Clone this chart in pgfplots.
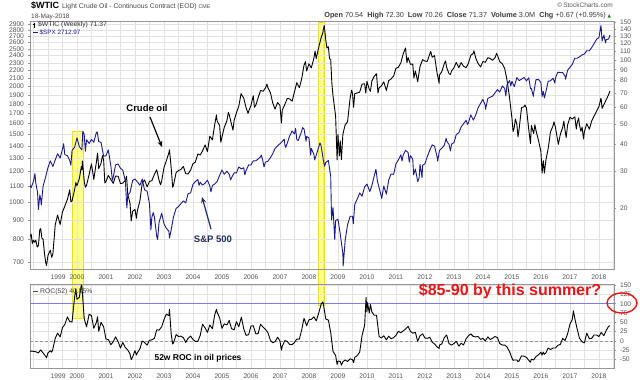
\documentclass[border=0pt]{standalone}
\usepackage{pgfplots}
\pgfplotsset{compat=1.18}
\usepackage{fontspec}
\setmainfont{Liberation Sans}
\newfontfamily\dejavu{DejaVu Sans}
\usetikzlibrary{arrows.meta}

\definecolor{spx}{RGB}{25,25,150}
\definecolor{gridc}{RGB}{226,226,226}
\definecolor{framec}{RGB}{150,150,150}
\definecolor{tickc}{RGB}{85,85,85}
\definecolor{hl}{RGB}{255,255,110}
\definecolor{hlb}{RGB}{225,225,40}
\definecolor{rocline}{RGB}{125,125,235}
\definecolor{redann}{RGB}{235,20,20}
\definecolor{navyann}{RGB}{30,45,100}

\pgfplotsset{
  common/.style={
    scale only axis, width=584pt, xmin=1998.38, xmax=2018.52,
    axis line style={draw=framec, line width=0.6pt},
    ticklabel style={font=\fontsize{6.7}{7}\selectfont, text=tickc},
    xtick={1999.35,2000,2001,2002,2003,2004,2005,2006,2007,2008,2009,2010,2011,2012,2013,2014,2015,2016,2017,2018},
    xticklabels={1999,2000,2001,2002,2003,2004,2005,2006,2007,2008,2009,2010,2011,2012,2013,2014,2015,2016,2017,2018},
    xtick style={draw=none},
    minor xtick={1998.5,1999,...,2018.5},
    xminorgrids=true,
    minor tick length=0pt,
    minor grid style={draw=gridc, line width=0.5pt},
    major grid style={draw=gridc, line width=0.5pt},
    ymajorgrids=true,
    ytick style={draw=framec, line width=0.5pt},
    major tick length=2.5pt,
    tick align=outside,
    xtick pos=bottom,
  }
}

\begin{document}
\begin{tikzpicture}
\useasboundingbox (0pt,0pt) rectangle (640pt,380pt);
\fill[white] (0pt,0pt) rectangle (640pt,380pt);

% highlight bands
\fill[hl, opacity=0.8] (72pt,62pt) rectangle (83pt,249pt);
\draw[hlb, line width=0.6pt] (72pt,62pt) rectangle (83pt,249pt);
\fill[hl, opacity=0.8] (318pt,75pt) rectangle (324pt,358pt);
\draw[hlb, line width=0.6pt] (318pt,75pt) rectangle (324pt,358pt);

% ---------- top panel: SPX scale (grid, left labels)
\begin{axis}[common, at={(30pt,111pt)}, anchor=south west, height=247.3pt,
  ymode=log, ymin=671, ymax=2940,
  ytick={700,800,900,1000,1100,1200,1300,1400,1500,1600,1700,1800,1900,2000,2100,2200,2300,2400,2500,2600,2700,2800,2900},
  yticklabels={700,800,900,1000,1100,1200,1300,1400,1500,1600,1700,1800,1900,2000,2100,2200,2300,2400,2500,2600,2700,2800,2900},
  ytick pos=left]
\end{axis}

% ---------- top panel: WTIC (right scale)
\begin{axis}[scale only axis, width=584pt, height=247.3pt, at={(30pt,111pt)}, anchor=south west,
  xmin=1998.38, xmax=2018.52, ymode=log, ymin=10.4, ymax=151.4,
  axis x line=none, axis y line*=right,
  axis line style={draw=framec, line width=0.6pt},
  ticklabel style={font=\fontsize{6.7}{7}\selectfont, text=tickc},
  ytick={20,30,40,50,60,70,80,90,100,110,120,130,140,150},
  yticklabels={20,30,40,50,60,70,80,90,100,110,120,130,140,150},
  ytick style={draw=framec, line width=0.5pt}, major tick length=2.5pt, tick align=outside]
\addplot[black, line width=0.9pt, line join=round] coordinates {
(1998.38,14.8) (1998.42,15.2) (1998.46,13.7) (1998.50,14.2) (1998.54,13.9) (1998.58,14.2) (1998.63,13.2) (1998.67,13.4) (1998.72,16.0) (1998.75,16.1) (1998.79,14.5) (1998.83,14.4) (1998.88,12.3) (1998.92,11.2) (1998.95,10.8) (1999.00,12.05)
(1999.08,12.75) (1999.13,11.8) (1999.17,12.27) (1999.25,16.76) (1999.33,18.66) (1999.42,16.84) (1999.50,19.29) (1999.58,20.53) (1999.67,22.10) (1999.75,24.51) (1999.79,21.5) (1999.83,21.75) (1999.92,24.59) (1999.96,26.5) (2000.00,25.60)
(2000.08,27.64) (2000.15,31.5) (2000.17,30.43) (2000.19,33.5) (2000.25,26.90) (2000.29,25.2) (2000.33,25.74) (2000.42,29.01) (2000.50,32.50) (2000.58,27.43) (2000.67,33.12) (2000.71,36.5) (2000.75,30.84) (2000.83,32.70) (2000.88,35.5) (2000.92,33.82) (2000.96,26.4) (2001.00,26.80)
(2001.08,28.66) (2001.17,27.39) (2001.25,26.29) (2001.33,28.46) (2001.42,28.37) (2001.50,26.25) (2001.58,26.35) (2001.67,27.20) (2001.71,28.4) (2001.75,23.43) (2001.83,21.18) (2001.87,17.5) (2001.92,19.44) (2002.00,19.84)
(2002.05,18.0) (2002.08,19.48) (2002.17,21.74) (2002.25,26.31) (2002.33,27.29) (2002.42,25.31) (2002.50,26.86) (2002.58,27.02) (2002.67,28.98) (2002.75,30.45) (2002.83,27.22) (2002.88,25.9) (2002.92,26.89) (2003.00,31.20)
(2003.08,33.51) (2003.17,36.60) (2003.19,37.8) (2003.25,31.04) (2003.30,25.2) (2003.33,25.80) (2003.42,29.56) (2003.50,30.19) (2003.58,30.54) (2003.67,31.57) (2003.75,29.20) (2003.83,29.11) (2003.92,30.41) (2004.00,32.52)
(2004.08,33.05) (2004.17,36.16) (2004.25,35.76) (2004.33,37.38) (2004.42,39.88) (2004.50,37.05) (2004.58,43.80) (2004.67,42.12) (2004.75,49.64) (2004.81,55.2) (2004.83,51.76) (2004.92,49.13) (2004.96,41.0) (2005.00,43.45)
(2005.08,48.20) (2005.17,51.75) (2005.22,56.7) (2005.25,55.40) (2005.33,49.72) (2005.38,46.8) (2005.42,51.97) (2005.50,56.50) (2005.58,60.57) (2005.66,69.5) (2005.67,68.94) (2005.75,66.24) (2005.83,59.76) (2005.90,56.1) (2005.92,57.32) (2006.00,61.04)
(2006.08,67.92) (2006.12,59.9) (2006.17,61.41) (2006.25,66.63) (2006.33,71.88) (2006.42,71.29) (2006.50,73.93) (2006.55,77.0) (2006.58,74.40) (2006.67,70.26) (2006.75,62.91) (2006.83,58.73) (2006.92,63.13) (2007.00,61.05)
(2007.05,50.5) (2007.08,58.14) (2007.17,61.79) (2007.25,65.87) (2007.33,65.71) (2007.42,64.01) (2007.50,70.68) (2007.58,78.21) (2007.67,74.04) (2007.75,81.66) (2007.83,94.53) (2007.88,98.2) (2007.92,88.71) (2008.00,95.98)
(2008.08,91.75) (2008.17,101.84) (2008.21,110.2) (2008.25,101.58) (2008.33,113.46) (2008.42,127.35) (2008.48,134.5) (2008.50,140.00) (2008.53,145.1) (2008.58,124.08) (2008.62,113.8) (2008.67,115.46) (2008.71,101.2) (2008.75,100.64) (2008.79,77.7) (2008.83,67.81) (2008.92,54.43) (2008.97,33.9) (2009.00,44.60)
(2009.05,35.4) (2009.08,41.68) (2009.12,34.0) (2009.17,44.76) (2009.25,49.66) (2009.33,51.12) (2009.42,66.31) (2009.47,72.0) (2009.50,69.89) (2009.54,59.9) (2009.58,69.45) (2009.67,69.96) (2009.75,70.61) (2009.83,77.00) (2009.92,77.28) (2009.96,69.9) (2010.00,79.36)
(2010.08,72.89) (2010.12,71.2) (2010.17,79.66) (2010.25,83.76) (2010.33,86.15) (2010.38,70.0) (2010.42,73.97) (2010.50,75.63) (2010.58,78.95) (2010.67,71.92) (2010.75,79.97) (2010.83,81.43) (2010.92,84.11) (2011.00,91.38)
(2011.08,92.19) (2011.17,96.97) (2011.25,106.72) (2011.33,113.93) (2011.38,97.2) (2011.42,102.70) (2011.50,95.42) (2011.58,95.70) (2011.62,82.3) (2011.67,88.81) (2011.75,79.20) (2011.83,93.19) (2011.92,100.36) (2012.00,98.83)
(2012.08,98.48) (2012.17,107.07) (2012.20,109.8) (2012.25,103.02) (2012.33,104.87) (2012.42,86.53) (2012.49,77.7) (2012.50,84.96) (2012.58,88.06) (2012.67,96.47) (2012.71,99.0) (2012.75,92.19) (2012.83,86.24) (2012.88,85.5) (2012.92,88.91) (2013.00,91.82)
(2013.08,97.49) (2013.17,92.05) (2013.25,97.23) (2013.33,93.46) (2013.42,91.97) (2013.50,96.56) (2013.58,105.03) (2013.67,107.65) (2013.69,110.5) (2013.75,102.33) (2013.83,96.38) (2013.92,92.72) (2014.00,98.42)
(2014.08,97.49) (2014.17,102.59) (2014.25,101.58) (2014.33,99.74) (2014.42,102.71) (2014.47,107.3) (2014.50,105.37) (2014.58,98.17) (2014.67,95.96) (2014.75,91.16) (2014.83,80.54) (2014.92,66.15) (2015.00,53.27)
(2015.04,46.1) (2015.08,48.24) (2015.12,52.8) (2015.17,49.76) (2015.21,43.5) (2015.25,47.60) (2015.33,59.63) (2015.42,60.30) (2015.45,61.4) (2015.50,59.47) (2015.58,47.12) (2015.64,40.45) (2015.67,49.20) (2015.75,45.09) (2015.79,49.6) (2015.83,46.59) (2015.92,41.65) (2016.00,37.04)
(2016.04,29.4) (2016.08,33.62) (2016.12,29.4) (2016.17,33.75) (2016.25,38.34) (2016.33,45.92) (2016.42,49.10) (2016.45,51.2) (2016.50,48.33) (2016.58,41.60) (2016.60,40.1) (2016.67,44.70) (2016.75,48.24) (2016.79,51.6) (2016.83,46.86) (2016.87,43.2) (2016.92,49.44) (2017.00,53.72)
(2017.08,52.81) (2017.17,54.01) (2017.22,47.3) (2017.25,50.60) (2017.30,53.4) (2017.33,49.33) (2017.38,46.2) (2017.42,48.32) (2017.47,42.5) (2017.50,46.04) (2017.58,50.17) (2017.67,47.23) (2017.75,51.67) (2017.83,54.38) (2017.92,57.40) (2018.00,60.42)
(2018.07,66.1) (2018.08,64.73) (2018.11,59.2) (2018.17,61.64) (2018.25,64.94) (2018.33,68.57) (2018.38,71.37)
};
\end{axis}

% ---------- top panel: SPX line
\begin{axis}[scale only axis, width=584pt, height=247.3pt, at={(30pt,111pt)}, anchor=south west,
  xmin=1998.38, xmax=2018.52, ymode=log, ymin=671, ymax=2940, hide axis]
\addplot[spx, line width=0.9pt, line join=round] coordinates {
(1998.38,1108) (1998.42,1090.8) (1998.50,1133.8) (1998.55,1186) (1998.58,1120.7) (1998.64,1062) (1998.67,957.3) (1998.72,1045) (1998.75,1017.0) (1998.77,984) (1998.83,1098.7) (1998.92,1163.6) (1999.00,1229.2)
(1999.08,1279.6) (1999.17,1238.3) (1999.25,1286.4) (1999.33,1335.2) (1999.42,1301.8) (1999.50,1372.7) (1999.54,1418) (1999.58,1328.7) (1999.67,1320.4) (1999.75,1282.7) (1999.79,1247) (1999.83,1362.9) (1999.92,1388.9) (2000.00,1469.3)
(2000.08,1394.5) (2000.17,1366.4) (2000.20,1527) (2000.25,1498.6) (2000.29,1356) (2000.33,1452.4) (2000.42,1420.6) (2000.50,1454.6) (2000.58,1430.8) (2000.67,1517.7) (2000.70,1520) (2000.75,1436.5) (2000.83,1429.4) (2000.92,1315.2) (2001.00,1320.3)
(2001.08,1366.0) (2001.17,1239.9) (2001.22,1140) (2001.25,1160.3) (2001.33,1249.5) (2001.42,1255.8) (2001.50,1224.4) (2001.58,1211.2) (2001.67,1133.6) (2001.72,965.8) (2001.75,1040.9) (2001.83,1059.8) (2001.92,1139.5) (2002.00,1148.1)
(2002.08,1130.2) (2002.17,1106.7) (2002.25,1147.4) (2002.33,1076.9) (2002.42,1067.1) (2002.50,989.8) (2002.55,847.8) (2002.58,911.6) (2002.63,940) (2002.67,916.1) (2002.75,815.3) (2002.78,800) (2002.83,885.8) (2002.92,936.3) (2003.00,879.8)
(2003.08,855.7) (2003.17,841.2) (2003.19,807) (2003.25,848.2) (2003.33,916.9) (2003.42,963.6) (2003.50,974.5) (2003.58,990.3) (2003.67,1008.0) (2003.75,996.0) (2003.83,1050.7) (2003.92,1058.2) (2004.00,1111.9)
(2004.08,1131.1) (2004.17,1144.9) (2004.21,1106) (2004.25,1126.2) (2004.33,1107.3) (2004.42,1120.7) (2004.50,1140.8) (2004.58,1101.7) (2004.62,1064) (2004.67,1104.2) (2004.75,1114.6) (2004.83,1130.2) (2004.92,1173.8) (2005.00,1211.9)
(2005.08,1181.3) (2005.17,1203.6) (2005.25,1180.6) (2005.30,1142) (2005.33,1156.9) (2005.42,1191.5) (2005.50,1191.3) (2005.58,1234.2) (2005.67,1220.3) (2005.75,1228.8) (2005.79,1177) (2005.83,1207.0) (2005.92,1249.5) (2006.00,1248.3)
(2006.08,1280.1) (2006.17,1280.7) (2006.25,1294.8) (2006.33,1310.6) (2006.36,1325) (2006.42,1270.1) (2006.45,1235) (2006.50,1270.2) (2006.58,1276.7) (2006.67,1303.8) (2006.75,1335.9) (2006.83,1377.9) (2006.92,1400.6) (2007.00,1418.3)
(2007.08,1438.2) (2007.15,1456) (2007.17,1406.8) (2007.20,1387) (2007.25,1420.9) (2007.33,1482.4) (2007.42,1530.6) (2007.50,1503.4) (2007.54,1553) (2007.58,1455.3) (2007.63,1445) (2007.67,1474.0) (2007.75,1526.8) (2007.78,1561.8) (2007.83,1549.4) (2007.90,1440) (2007.92,1481.1) (2008.00,1468.4)
(2008.06,1325) (2008.08,1378.6) (2008.17,1330.6) (2008.20,1288) (2008.25,1322.7) (2008.33,1385.6) (2008.38,1425) (2008.42,1400.4) (2008.50,1280.0) (2008.54,1239) (2008.58,1267.4) (2008.67,1282.8) (2008.75,1166.4) (2008.78,899.2) (2008.83,968.8) (2008.89,800) (2008.92,896.2) (2009.00,903.3)
(2009.08,825.9) (2009.17,735.1) (2009.18,683.4) (2009.25,797.9) (2009.33,872.8) (2009.42,919.1) (2009.50,919.3) (2009.53,879) (2009.58,987.5) (2009.67,1020.6) (2009.75,1057.1) (2009.83,1036.2) (2009.92,1095.6) (2010.00,1115.1)
(2010.08,1073.9) (2010.10,1066) (2010.17,1104.5) (2010.25,1169.4) (2010.31,1217) (2010.33,1186.7) (2010.36,1135) (2010.42,1089.4) (2010.50,1030.7) (2010.51,1022.6) (2010.58,1101.6) (2010.67,1049.3) (2010.75,1141.2) (2010.83,1183.3) (2010.92,1180.6) (2011.00,1257.6)
(2011.08,1286.1) (2011.17,1327.2) (2011.21,1279) (2011.25,1325.8) (2011.33,1363.6) (2011.42,1345.2) (2011.46,1271) (2011.50,1320.6) (2011.58,1292.3) (2011.61,1178) (2011.67,1218.9) (2011.75,1131.4) (2011.80,1155) (2011.83,1253.3) (2011.90,1158) (2011.92,1247.0) (2012.00,1257.6)
(2012.08,1312.4) (2012.17,1365.7) (2012.25,1408.5) (2012.33,1397.9) (2012.42,1310.3) (2012.44,1278) (2012.50,1362.2) (2012.58,1379.3) (2012.67,1406.6) (2012.73,1465) (2012.75,1440.7) (2012.83,1412.2) (2012.88,1359) (2012.92,1416.2) (2013.00,1426.2)
(2013.08,1498.1) (2013.17,1514.7) (2013.25,1569.2) (2013.33,1597.6) (2013.42,1630.7) (2013.47,1592) (2013.50,1606.3) (2013.58,1685.7) (2013.67,1633.0) (2013.75,1681.6) (2013.83,1756.5) (2013.92,1805.8) (2014.00,1848.4)
(2014.08,1782.6) (2014.09,1742) (2014.17,1859.5) (2014.25,1872.3) (2014.33,1883.9) (2014.42,1923.6) (2014.50,1960.2) (2014.58,1930.7) (2014.67,2003.4) (2014.75,1972.3) (2014.79,1886) (2014.83,2018.1) (2014.92,2067.6) (2014.96,2002) (2015.00,2058.9)
(2015.08,1994.99) (2015.17,2104.5) (2015.25,2067.9) (2015.33,2085.5) (2015.42,2107.4) (2015.50,2063.1) (2015.58,2103.8) (2015.64,1971) (2015.67,1972.2) (2015.74,1882) (2015.75,1920.0) (2015.83,2079.4) (2015.92,2080.4) (2016.00,2043.9)
(2016.04,1880) (2016.08,1940.2) (2016.12,1864.8) (2016.17,1932.2) (2016.25,2059.7) (2016.33,2065.3) (2016.42,2096.9) (2016.48,2037) (2016.50,2098.9) (2016.58,2173.6) (2016.67,2170.9) (2016.75,2168.3) (2016.83,2126.2) (2016.85,2085) (2016.92,2199.0) (2017.00,2238.8)
(2017.08,2278.9) (2017.17,2363.6) (2017.25,2362.7) (2017.33,2384.2) (2017.42,2411.8) (2017.50,2423.4) (2017.58,2470.3) (2017.67,2471.7) (2017.75,2519.4) (2017.83,2575.3) (2017.92,2647.6) (2018.00,2673.6)
(2018.07,2872.9) (2018.08,2823.8) (2018.11,2619.6) (2018.17,2713.8) (2018.23,2588) (2018.25,2640.9) (2018.33,2648.1) (2018.38,2712.97)
};
\end{axis}

% ---------- bottom panel: ROC(52)
\begin{axis}[common, at={(30pt,12pt)}, anchor=south west, height=84pt,
  ymin=-72.6, ymax=153,
  ytick={-50,-25,0,25,50,75,100,125,150},
  yticklabels={-50,-25,0,25,50,75,100,125,150},
  ytick pos=right, yticklabel pos=right]
\addplot[draw=framec, line width=0.6pt, dash pattern=on 3pt off 2pt] coordinates {(1998.38,0) (2018.52,0)};
\addplot[draw=rocline, line width=0.7pt] coordinates {(1998.38,100) (2018.52,100)};
\addplot[black, line width=0.9pt, line join=round] coordinates {
(1998.38,-28) (1998.42,-27) (1998.50,-28) (1998.58,-29) (1998.67,-32) (1998.75,-24) (1998.83,-32) (1998.92,-41) (1998.95,-45) (1999.00,-32)
(1999.08,-26) (1999.13,-30) (1999.17,-21) (1999.25,7) (1999.33,21) (1999.42,11) (1999.50,36) (1999.58,44) (1999.67,65) (1999.75,52) (1999.83,51) (1999.92,119) (1999.96,140) (2000.00,112)
(2000.08,117) (2000.15,150) (2000.17,148) (2000.19,125) (2000.25,60) (2000.33,38) (2000.42,72) (2000.50,68) (2000.58,34) (2000.67,50) (2000.71,65) (2000.75,26) (2000.83,50) (2000.92,38) (2001.00,5)
(2001.08,4) (2001.17,-10) (2001.25,-2) (2001.33,11) (2001.42,-2) (2001.50,-19) (2001.58,-4) (2001.67,-18) (2001.75,-24) (2001.83,-35) (2001.87,-50) (2001.92,-43) (2002.00,-26)
(2002.05,-38) (2002.08,-32) (2002.17,-21) (2002.25,0) (2002.33,-4) (2002.42,-11) (2002.50,2) (2002.58,3) (2002.67,7) (2002.75,30) (2002.83,29) (2002.92,38) (2003.00,57)
(2003.08,72) (2003.17,68) (2003.19,85) (2003.25,18) (2003.30,-8) (2003.33,-5) (2003.42,17) (2003.50,12) (2003.58,13) (2003.67,9) (2003.75,-4) (2003.83,7) (2003.92,13) (2004.00,4)
(2004.08,-1) (2004.17,-1) (2004.25,15) (2004.33,45) (2004.42,35) (2004.50,23) (2004.58,43) (2004.67,33) (2004.75,70) (2004.81,85) (2004.83,78) (2004.92,62) (2005.00,34)
(2005.08,46) (2005.17,43) (2005.25,55) (2005.33,33) (2005.42,30) (2005.50,52) (2005.58,38) (2005.67,64) (2005.75,33) (2005.83,15) (2005.92,17) (2006.00,40)
(2006.08,41) (2006.17,19) (2006.25,20) (2006.33,45) (2006.42,37) (2006.50,31) (2006.58,23) (2006.67,2) (2006.75,-5) (2006.83,-2) (2006.92,10) (2007.00,0)
(2007.05,-25) (2007.08,-14) (2007.17,1) (2007.25,-1) (2007.33,-9) (2007.42,-10) (2007.50,-4) (2007.58,5) (2007.67,5) (2007.75,30) (2007.83,61) (2007.92,41) (2008.00,57)
(2008.08,58) (2008.17,65) (2008.25,54) (2008.33,73) (2008.42,99) (2008.48,105) (2008.50,98) (2008.58,59) (2008.67,56) (2008.75,23) (2008.83,-28) (2008.92,-39) (2008.97,-63) (2009.00,-54)
(2009.08,-55) (2009.12,-65) (2009.17,-56) (2009.25,-51) (2009.33,-55) (2009.42,-48) (2009.50,-50) (2009.54,-58) (2009.58,-44) (2009.67,-39) (2009.75,-30) (2009.83,14) (2009.92,42) (2009.97,117) (2010.00,78)
(2010.02,103) (2010.08,75) (2010.12,98) (2010.17,78) (2010.25,69) (2010.33,69) (2010.42,12) (2010.50,8) (2010.58,14) (2010.67,3) (2010.75,13) (2010.83,6) (2010.92,9) (2011.00,15)
(2011.08,26) (2011.17,22) (2011.25,27) (2011.33,32) (2011.42,39) (2011.50,26) (2011.58,21) (2011.67,23) (2011.75,-1) (2011.83,14) (2011.92,19) (2012.00,8)
(2012.08,7) (2012.17,10) (2012.25,-3) (2012.33,-8) (2012.42,-16) (2012.49,-20) (2012.50,-11) (2012.58,-8) (2012.67,9) (2012.75,16) (2012.83,-7) (2012.92,-11) (2013.00,-7)
(2013.08,-1) (2013.17,-14) (2013.25,-6) (2013.33,-11) (2013.42,6) (2013.50,14) (2013.58,19) (2013.67,12) (2013.75,11) (2013.83,12) (2013.92,4) (2014.00,7)
(2014.08,0) (2014.17,11) (2014.25,4) (2014.33,7) (2014.42,12) (2014.50,9) (2014.58,-7) (2014.67,-11) (2014.75,-11) (2014.83,-16) (2014.92,-29) (2015.00,-46)
(2015.04,-52) (2015.08,-51) (2015.17,-51) (2015.21,-56) (2015.25,-53) (2015.33,-40) (2015.42,-41) (2015.50,-44) (2015.58,-52) (2015.64,-57) (2015.67,-49) (2015.75,-51) (2015.83,-42) (2015.92,-37) (2016.00,-30)
(2016.04,-38) (2016.08,-30) (2016.12,-36) (2016.17,-32) (2016.25,-19) (2016.33,-23) (2016.42,-19) (2016.50,-19) (2016.58,-12) (2016.67,-9) (2016.75,7) (2016.83,1) (2016.92,19) (2017.00,45)
(2017.08,57) (2017.12,81) (2017.17,60) (2017.25,32) (2017.33,7) (2017.42,-2) (2017.50,-5) (2017.58,21) (2017.67,6) (2017.75,7) (2017.83,16) (2017.92,16) (2018.00,12)
(2018.08,23) (2018.17,14) (2018.25,28) (2018.33,39) (2018.38,40.85)
};
\end{axis}

% ---------- header
\node[anchor=base west, inner sep=0pt, font=\fontsize{9}{10}\selectfont\bfseries] at (31pt,371pt) {\$WTIC};
\node[anchor=base west, inner sep=0pt, font=\fontsize{6.8}{8}\selectfont, text={rgb,255:red,70;green,70;blue,70}] at (62pt,371pt) {Light Crude Oil - Continuous Contract (EOD) {\fontsize{5.3}{6}\selectfont CME}};
\node[anchor=base west, inner sep=0pt, font=\fontsize{6.5}{7}\selectfont, text={rgb,255:red,70;green,70;blue,70}] at (31pt,361.5pt) {18-May-2018};
\node[anchor=base east, inner sep=0pt, font=\fontsize{7.3}{8}\selectfont, text={rgb,255:red,60;green,60;blue,60}] at (606pt,362pt) {\textbf{Open} 70.54 \ \textbf{High} 72.30 \ \textbf{Low} 70.26 \ \textbf{Close} 71.37 \ \textbf{Volume} 3.0M \ \textbf{Chg} +0.67 (+0.95\%)};
\node[anchor=base west, inner sep=0pt, font=\dejavu\fontsize{4.5}{5}\selectfont, text={rgb,255:red,0;green,140;blue,0}] at (607.5pt,362.5pt) {▲};
\node[anchor=base east, inner sep=0pt, font=\fontsize{6.5}{7}\selectfont, text={rgb,255:red,90;green,90;blue,90}] at (613pt,372pt) {©\,StockCharts.com};

% ---------- legends
\draw[black, line width=0.6pt] (34pt,352pt) -- (34pt,357pt) (33pt,356pt) -- (34pt,356pt) (34pt,353pt) -- (35pt,353pt);
\node[anchor=base west, inner sep=0pt, font=\fontsize{6.8}{7}\selectfont, text={rgb,255:red,50;green,50;blue,50}] at (38pt,353pt) {\$WTIC (Weekly) 71.37};
\draw[spx, line width=1pt] (33pt,347pt) -- (37.5pt,347pt);
\node[anchor=base west, inner sep=0pt, font=\fontsize{6.3}{7}\selectfont, text=spx] at (39.5pt,345pt) {\$SPX 2712.97};
\draw[black!70, line width=1pt] (33pt,88pt) -- (38pt,88pt);
\node[anchor=base west, inner sep=0pt, font=\fontsize{6.8}{7}\selectfont, text={rgb,255:red,70;green,70;blue,70}] at (40pt,86pt) {ROC(52) 40.85\%};

% ---------- annotations
\node[font=\fontsize{9.5}{10}\selectfont\bfseries] at (147pt,272pt) {Crude oil};
\draw[black, line width=1.2pt, -{Stealth[length=6pt,width=5pt]}] (150pt,263pt) -- (162pt,233pt);
\node[font=\fontsize{9.5}{10}\selectfont\bfseries, text=navyann] at (213pt,141pt) {S\&P 500};
\draw[navyann, line width=1.2pt, -{Stealth[length=6pt,width=5pt]}] (211pt,151pt) -- (202pt,183pt);
\node[font=\fontsize{8.5}{9}\selectfont\bfseries] at (198pt,22pt) {52w ROC in oil prices};
\node[anchor=base, inner sep=0pt, font=\fontsize{16}{17}\selectfont\bfseries, text=redann] at (510pt,84pt) {\$85-90 by this summer?};
\draw[redann, line width=1.4pt] (622pt,77pt) ellipse (15pt and 10pt);
\end{tikzpicture}
\end{document}
